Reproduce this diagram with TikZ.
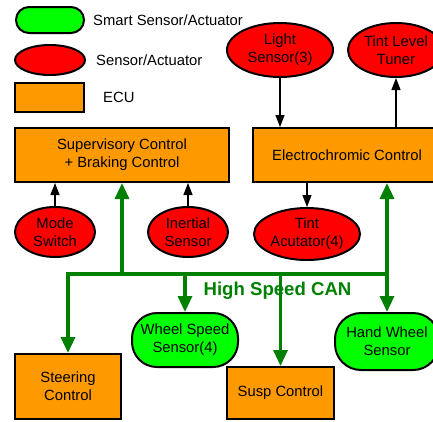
\documentclass[tikz,border=0pt]{standalone}
\usepackage{fontspec}
\setmainfont{Liberation Sans}
\usetikzlibrary{arrows.meta,shapes.geometric}
\definecolor{ecuorange}{RGB}{255,153,0}
\definecolor{sensred}{RGB}{255,0,0}
\definecolor{smartgreen}{RGB}{0,255,0}
\definecolor{canwire}{RGB}{0,128,0}
\tikzset{
  txt/.style={font=\fontsize{14.8}{18}\selectfont, align=center, inner sep=0pt},
  ecubox/.style={txt, draw=black, line width=2pt, fill=ecuorange, rectangle},
  sensell/.style={txt, draw=black, line width=2pt, fill=sensred, ellipse},
  smartbox/.style={txt, draw=black, line width=2pt, fill=smartgreen, rectangle},
  sig/.style={draw=black, line width=1.2pt, -{Triangle[length=12pt,width=9pt]}},
  can/.style={draw=canwire, line width=3.2pt, line join=miter, -{Triangle[length=16pt,width=14pt]}},
}
\begin{document}
\begin{tikzpicture}[x=1pt,y=-1pt]
\useasboundingbox (0,0) rectangle (433,421);
\clip (0,0) rectangle (433,421);

% legend
\node[smartbox, rounded corners=13pt, minimum width=68pt, minimum height=26pt] (lgsmart) at (50,20) {};
\node[txt, anchor=west] (lgsmarttxt) at (93,20) {Smart Sensor/Actuator};
\node[sensell, minimum width=70pt, minimum height=30pt] (lgsens) at (50,60) {};
\node[txt, anchor=west] (lgsenstxt) at (96,60) {Sensor/Actuator};
\node[ecubox, minimum width=69pt, minimum height=29pt] (lgecu) at (49.5,97.5) {};
\node[txt, anchor=west] (lgecutxt) at (103,97.5) {ECU};

% ECUs
\node[ecubox, minimum width=214pt, minimum height=54pt] (sup) at (122,155) {Supervisory Control\\+ Braking Control};
\node[ecubox, minimum width=188pt, minimum height=54pt] (ec) at (347,155) {Electrochromic Control};
\node[ecubox, minimum width=106pt, minimum height=65pt] (steer) at (68,386.5) {Steering\\Control};
\node[ecubox, minimum width=107pt, minimum height=52pt] (susp) at (280.5,393) {Susp Control};

% plain sensors and actuators
\node[sensell, minimum width=106pt, minimum height=54pt] (light) at (280,50) {Light\\Sensor(3)};
\node[sensell, minimum width=96pt, minimum height=54pt] (tuner) at (396,50) {Tint Level\\Tuner};
\node[sensell, minimum width=80pt, minimum height=50pt] (mode) at (55,232) {Mode\\Switch};
\node[sensell, minimum width=80pt, minimum height=50pt] (inert) at (188,232) {Inertial\\Sensor};
\node[sensell, minimum width=106pt, minimum height=52pt] (tintact) at (307,234) {Tint\\Acutator(4)};

% smart sensors
\node[smartbox, rounded corners=25pt, minimum width=106pt, minimum height=54pt] (wheel) at (185,340) {Wheel Speed\\Sensor(4)};
\node[smartbox, rounded corners=26pt, minimum width=104pt, minimum height=57pt] (hand) at (387,341.5) {Hand Wheel\\Sensor};

% point-to-point signals
\draw[sig] (light.south) -- (light.south |- ec.north);
\draw[sig] (ec.north -| tuner) -- (tuner.south);
\draw[sig] (ec.south -| tintact) -- (tintact.north);
\draw[sig] (mode.north) -- (mode.north |- sup.south);
\draw[sig] (inert.north) -- (inert.north |- sup.south);

% CAN bus
\node[font=\bfseries\fontsize{18.6}{20}\selectfont, text=canwire, inner sep=0pt] (canlabel) at (277.5,291) {High Speed CAN};
\coordinate (busL) at (68,274);
\coordinate (busR) at (387,274);
\draw[can] (busR) -- (busL) -- (steer.north);
\draw[can] (sup.south |- busL) -- (sup.south);
\draw[can] (busR) -- (busR |- ec.south);
\draw[can] (busR) -- (hand.north);
\draw[can] (wheel.north |- busL) -- (wheel.north);
\draw[can] (susp.north |- busL) -- (susp.north);
\end{tikzpicture}
\end{document}
